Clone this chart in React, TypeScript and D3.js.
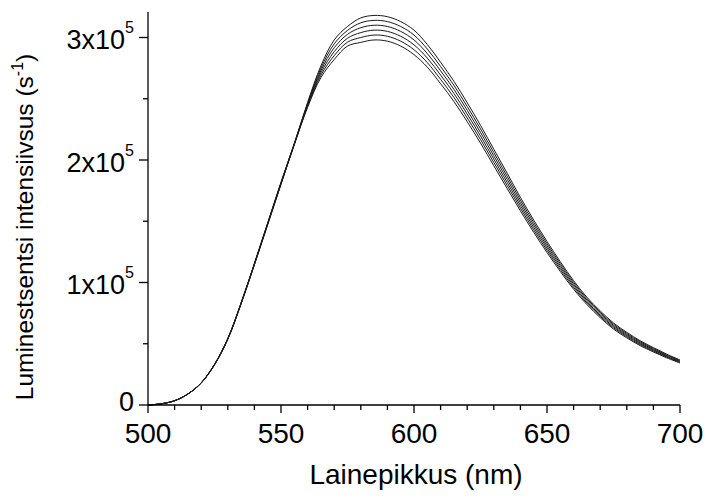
import React from "react";
import * as d3 from "d3";

const wavelengths = [500,505,510,515,520,525,530,535,540,545,550,555,560,565,570,575,580,585,590,595,600,605,610,615,620,625,630,635,640,645,650,655,660,665,670,675,680,685,690,695,700];

// intensities in units of 1e5 s^-1
const series1 = [0,0.01,0.035,0.09,0.181,0.332,0.543,0.834,1.156,1.487,1.819,2.135,2.47,2.768,2.98,3.09,3.16,3.18,3.17,3.13,3.06,2.943,2.798,2.643,2.468,2.283,2.088,1.893,1.695,1.51,1.335,1.17,1.015,0.88,0.768,0.67,0.593,0.525,0.468,0.415,0.368];
const series2 = [0,0.01,0.035,0.09,0.181,0.331,0.542,0.833,1.153,1.484,1.815,2.133,2.462,2.749,2.948,3.058,3.12,3.14,3.13,3.09,3.02,2.906,2.763,2.61,2.437,2.254,2.061,1.868,1.673,1.49,1.317,1.154,1.001,0.868,0.757,0.66,0.584,0.517,0.461,0.409,0.363];
const series3 = [0,0.01,0.035,0.09,0.18,0.33,0.541,0.831,1.151,1.481,1.812,2.131,2.454,2.73,2.916,3.026,3.08,3.1,3.09,3.05,2.98,2.869,2.728,2.577,2.406,2.225,2.034,1.843,1.651,1.47,1.299,1.138,0.987,0.856,0.746,0.65,0.575,0.509,0.454,0.403,0.358];
const series4 = [0,0.01,0.035,0.09,0.18,0.33,0.539,0.829,1.149,1.478,1.808,2.129,2.446,2.711,2.884,2.994,3.04,3.06,3.05,3.01,2.94,2.832,2.693,2.544,2.375,2.196,2.007,1.818,1.629,1.45,1.281,1.122,0.973,0.844,0.734,0.64,0.566,0.501,0.447,0.397,0.353];
const series5 = [0,0.01,0.035,0.09,0.179,0.329,0.538,0.827,1.147,1.475,1.805,2.127,2.438,2.692,2.852,2.962,3.0,3.02,3.01,2.97,2.9,2.795,2.658,2.511,2.344,2.167,1.98,1.793,1.607,1.43,1.263,1.106,0.959,0.832,0.724,0.63,0.557,0.493,0.44,0.391,0.348];
const series6 = [0,0.01,0.035,0.09,0.179,0.328,0.537,0.826,1.144,1.472,1.801,2.125,2.43,2.673,2.82,2.93,2.96,2.98,2.97,2.93,2.86,2.758,2.623,2.478,2.313,2.138,1.953,1.768,1.585,1.41,1.245,1.09,0.945,0.82,0.713,0.62,0.548,0.485,0.433,0.385,0.343];

const allSeries = [series1, series2, series3, series4, series5, series6];

const xMajorTicks = [500, 550, 600, 650, 700];
const xMinorTicks = [510,520,530,540,560,570,580,590,610,620,630,640,660,670,680,690];
const yMajorTicks = [0, 1, 2, 3];
const yMinorTicks = [0.5, 1.5, 2.5];

const xTitle = "Lainepikkus (nm)";
const yTitle = "Luminestsentsi intensiivsus (s";

export default function App() {
  const W = 707, H = 497;
  const left = 148, right = 680, bottom = 405, top = 13;
  const x = d3.scaleLinear().domain([500, 700]).range([left, right]);
  const y = d3.scaleLinear().domain([0, 3.2]).range([bottom, top]);
  const line = d3
    .line<number>()
    .x((_, i) => x(wavelengths[i]))
    .y((v) => y(v))
    .curve(d3.curveCatmullRom.alpha(0.5));

  const font = "'Liberation Sans', Arial, sans-serif";

  return (
    <svg width={W} height={H} style={{ position: "absolute", left: 0, top: 0, background: "#fff" }}>
      <g fill="none" stroke="#1a1a1a" strokeWidth={1}>
        {allSeries.map((s, k) => (
          <path key={k} d={line(s) || ""} />
        ))}
      </g>
      {/* axes */}
      <line x1={left} x2={left} y1={top - 1} y2={bottom} stroke="#000" strokeWidth={1.3} />
      <line x1={left} x2={right} y1={bottom} y2={bottom} stroke="#000" strokeWidth={1.3} />
      {xMajorTicks.map((t) => (
        <g key={"xm" + t}>
          <line x1={x(t)} x2={x(t)} y1={bottom} y2={bottom + 8} stroke="#000" strokeWidth={1.3} />
          <text x={x(t)} y={443} textAnchor="middle" fontFamily={font} fontSize={28} fill="#000">
            {t}
          </text>
        </g>
      ))}
      {xMinorTicks.map((t) => (
        <line key={"xn" + t} x1={x(t)} x2={x(t)} y1={bottom} y2={bottom + 5} stroke="#000" strokeWidth={1.3} />
      ))}
      {yMajorTicks.map((t) => (
        <g key={"ym" + t}>
          <line x1={left - 9} x2={left} y1={y(t)} y2={y(t)} stroke="#000" strokeWidth={1.3} />
          {t === 0 ? (
            <text x={134} y={y(t) + 6} textAnchor="end" fontFamily={font} fontSize={27} fill="#000">
              0
            </text>
          ) : (
            <text x={134} y={y(t) + 11.5} textAnchor="end" fontFamily={font} fontSize={27} fill="#000">
              {t + "x10"}
              <tspan dy={-16} fontSize={16}>5</tspan>
            </text>
          )}
        </g>
      ))}
      {yMinorTicks.map((t) => (
        <line key={"yn" + t} x1={left - 5} x2={left} y1={y(t)} y2={y(t)} stroke="#000" strokeWidth={1.3} />
      ))}
      <text x={416} y={484} textAnchor="middle" fontFamily={font} fontSize={28} fill="#000">
        {xTitle}
      </text>
      <text
        transform="translate(33,227) rotate(-90)"
        textAnchor="middle"
        fontFamily={font}
        fontSize={24.5}
        fill="#000"
      >
        {yTitle}<tspan dy={-10} fontSize={16}>-1</tspan><tspan dy={10}>)</tspan>
      </text>
    </svg>
  );
}
